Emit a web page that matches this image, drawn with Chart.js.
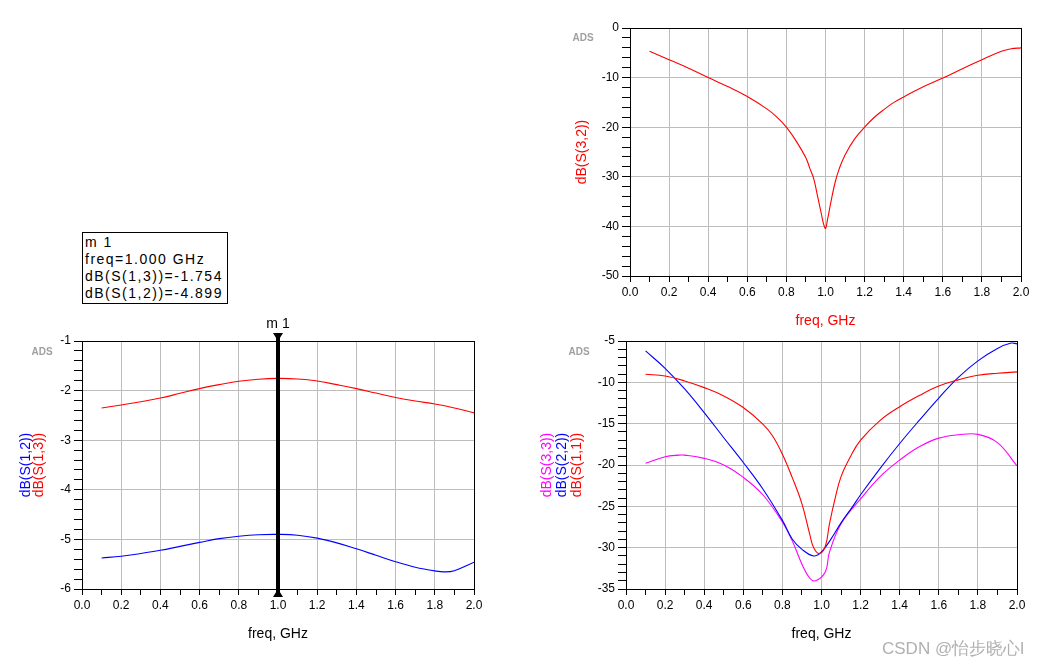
<!DOCTYPE html>
<html>
<head>
<meta charset="utf-8">
<script src="https://cdn.jsdelivr.net/npm/chart.js@4.4.1/dist/chart.umd.min.js"></script>
<style>
  html, body { margin:0; padding:0; background:#fff; }
  body { width:1048px; height:666px; position:relative; overflow:hidden; font-family: Arial, "Liberation Sans", sans-serif; }
  canvas { position:absolute; }
  #markerBox { position:absolute; left:82px; top:232px; width:146px; height:72px; border:1px solid #000;
    font-size:14px; line-height:17px; letter-spacing:1.5px; color:#000; padding:1px 0 0 2px; box-sizing:border-box; white-space:nowrap; }
  #wm { position:absolute; left:882px; top:637px; font-size:17px; color:#b0b0b0; white-space:nowrap; }
</style>
</head>
<body>
<canvas id="cTop" width="528" height="330" style="left:520px;top:0px;width:528px;height:330px"></canvas>
<canvas id="cBL" width="520" height="356" style="left:0px;top:310px;width:520px;height:356px"></canvas>
<canvas id="cBR" width="528" height="336" style="left:520px;top:330px;width:528px;height:336px"></canvas>
<div id="markerBox"></div>
<div id="wm">CSDN @怡步晓心l</div>
<script>
// ---------------- DATA ----------------
const xMajorTicks = [0.0,0.2,0.4,0.6,0.8,1.0,1.2,1.4,1.6,1.8,2.0];
const xTickLabels = ['0.0','0.2','0.4','0.6','0.8','1.0','1.2','1.4','1.6','1.8','2.0'];
const xMinorTicks = [0.1,0.3,0.5,0.7,0.9,1.1,1.3,1.5,1.7,1.9];

// top chart: dB(S(3,2))
const freqS32 = [0.1,0.2,0.3,0.4,0.5,0.6,0.7,0.75,0.8,0.85,0.9,0.92,0.94,0.96,0.98,0.99,1.0,1.01,1.03,1.05,1.07,1.1,1.15,1.2,1.25,1.3,1.35,1.4,1.5,1.6,1.7,1.8,1.9,1.95,2.0];
const s32     = [-4.7,-6.4,-8.1,-10.0,-11.8,-13.8,-16.3,-17.9,-20.0,-22.8,-26.2,-28.3,-30.4,-34.0,-37.7,-39.5,-40.4,-38.7,-34.6,-31.0,-28.4,-25.6,-22.3,-20.0,-18.0,-16.4,-15.0,-13.9,-11.85,-10.1,-8.2,-6.4,-4.7,-4.2,-4.0];
const yTicksTop = [0,-10,-20,-30,-40,-50];

// bottom-left chart: dB(S(1,3)) and dB(S(1,2))
const freqS13 = [0.1,0.2,0.3,0.4,0.5,0.6,0.7,0.8,0.9,1.0,1.1,1.2,1.3,1.4,1.5,1.6,1.7,1.8,1.9,2.0];
const s13     = [-2.35,-2.29,-2.225,-2.15,-2.055,-1.96,-1.88,-1.81,-1.77,-1.754,-1.765,-1.805,-1.88,-1.96,-2.05,-2.14,-2.21,-2.27,-2.35,-2.45];
const freqS12 = [0.1,0.2,0.3,0.4,0.5,0.6,0.7,0.8,0.9,1.0,1.1,1.2,1.3,1.4,1.5,1.6,1.7,1.8,1.85,1.9,2.0];
const s12     = [-5.375,-5.34,-5.285,-5.22,-5.14,-5.06,-4.985,-4.935,-4.905,-4.899,-4.915,-4.975,-5.07,-5.19,-5.32,-5.45,-5.56,-5.635,-5.655,-5.63,-5.46];
const yTicksBL = [-1,-2,-3,-4,-5,-6];

// bottom-right chart: dB(S(1,1)), dB(S(2,2)), dB(S(3,3))
const freqS11 = [0.1,0.2,0.3,0.4,0.5,0.6,0.7,0.75,0.8,0.85,0.9,0.94,0.96,0.99,1.02,1.04,1.07,1.1,1.15,1.2,1.3,1.4,1.5,1.6,1.7,1.8,1.9,2.0];
const s11     = [-9.03,-9.23,-9.83,-10.64,-11.64,-13.05,-15.06,-16.5,-18.7,-21.5,-24.7,-28.4,-30.0,-30.7,-29.8,-27.2,-24.0,-21.4,-18.9,-17.0,-14.6,-12.95,-11.6,-10.45,-9.7,-9.15,-8.9,-8.74];
const freqS22 = [0.1,0.2,0.3,0.4,0.5,0.6,0.7,0.8,0.85,0.9,0.96,1.0,1.05,1.1,1.16,1.2,1.3,1.4,1.5,1.6,1.7,1.8,1.9,1.97,2.0];
const s22     = [-6.2,-8.3,-10.8,-13.66,-16.7,-19.7,-22.9,-26.7,-28.95,-30.2,-31.0,-30.5,-28.9,-27.0,-25.0,-23.6,-20.4,-17.4,-14.6,-11.9,-9.4,-7.4,-5.9,-5.25,-5.35];
const freqS33 = [0.1,0.2,0.27,0.3,0.4,0.5,0.6,0.7,0.8,0.85,0.9,0.94,0.97,1.02,1.04,1.1,1.2,1.3,1.4,1.5,1.6,1.7,1.8,1.9,2.0];
const s33     = [-19.8,-19.0,-18.8,-18.8,-19.2,-20.0,-21.5,-23.6,-26.9,-29.15,-32.0,-33.7,-34.0,-32.9,-30.6,-27.1,-24.1,-21.4,-19.4,-17.8,-16.75,-16.35,-16.3,-17.3,-20.1];
const yTicksBR = [-5,-10,-15,-20,-25,-30,-35];

const markerFreq = 1.000;
const markerLines = ['m 1','freq=1.000 GHz','dB(S(1,3))=-1.754','dB(S(1,2))=-4.899'];

// ---------------- HELPERS ----------------
const FONT = 'Arial, "Liberation Sans", sans-serif';
function pts(xs, ys) { return xs.map((x, i) => ({x: x, y: ys[i]})); }
function isIn(v, arr) { return arr.some(a => Math.abs(a - v) < 1e-9); }
function ds(label, xs, ys, color) {
  return { label, data: pts(xs, ys), borderColor: color, borderWidth: 1.1, pointRadius: 0,
           fill: false, tension: 0.4 };
}
function xScale() {
  return {
    type: 'linear', min: 0, max: 2,
    afterBuildTicks: s => { s.ticks = xMajorTicks.concat(xMinorTicks).sort((a,b)=>a-b).map(v => ({value: v})); },
    afterFit: s => { s.height = 40; },
    ticks: { autoSkip: false, maxRotation: 0, minRotation: 0, padding: 3, color: '#000',
      font: { family: FONT, size: 12 },
      callback: v => { const i = xMajorTicks.findIndex(a => Math.abs(a - v) < 1e-9); return i >= 0 ? xTickLabels[i] : ''; } },
    grid: { color: c => (c.tick && isIn(c.tick.value, xMajorTicks)) ? '#bdbdbd' : 'rgba(0,0,0,0)',
      tickColor: '#000', tickLength: 6, lineWidth: 1 },
    border: { display: true, color: '#000', width: 1 }
  };
}
function yScale(major, minorStep) {
  const mn = Math.min(...major), mx = Math.max(...major);
  return {
    type: 'linear', min: mn, max: mx,
    afterBuildTicks: s => {
      const t = []; const n = Math.round((mx - mn) / minorStep);
      for (let i = 0; i <= n; i++) t.push({value: +(mn + i * minorStep).toFixed(6)});
      s.ticks = t;
    },
    afterFit: s => { s.width = 50; },
    ticks: { autoSkip: false, padding: 3, color: '#000', font: { family: FONT, size: 12 },
      callback: v => isIn(v, major) ? String(major.find(a => Math.abs(a - v) < 1e-9)) : '' },
    grid: { color: c => (c.tick && isIn(c.tick.value, major)) ? '#bdbdbd' : 'rgba(0,0,0,0)',
      tickColor: '#000', tickLength: 8, lineWidth: 1 },
    border: { display: true, color: '#000', width: 1 }
  };
}
// decoration plugin: frame, axis titles, ADS label, marker
const deco = {
  id: 'deco',
  afterDraw(chart, args, o) {
    const ctx = chart.ctx, a = chart.chartArea;
    ctx.save();
    ctx.strokeStyle = '#000'; ctx.lineWidth = 1;
    ctx.strokeRect(Math.round(a.left) + 0.5, Math.round(a.top) + 0.5, Math.round(a.right - a.left), Math.round(a.bottom - a.top));
    ctx.fillStyle = '#a0a0a0'; ctx.font = 'bold 10px ' + FONT; ctx.textAlign = 'center'; ctx.textBaseline = 'middle';
    ctx.fillText('ADS', a.left - o.adsDx, a.top + o.adsDy);
    ctx.fillStyle = o.xTitleColor; ctx.font = '14px ' + FONT;
    ctx.fillText('freq, GHz', (a.left + a.right) / 2, a.bottom + 45);
    const cy = (a.top + a.bottom) / 2;
    o.yTitles.forEach(t => {
      ctx.save();
      ctx.translate(a.left - t.dx, cy);
      ctx.rotate(-Math.PI / 2);
      ctx.fillStyle = t.color; ctx.font = '14px ' + FONT;
      ctx.textAlign = 'center'; ctx.textBaseline = 'middle';
      ctx.fillText(t.text, 0, 0);
      ctx.restore();
    });
    if (o.marker != null) {
      const x = chart.scales.x.getPixelForValue(o.marker);
      ctx.fillStyle = '#000'; ctx.strokeStyle = '#000';
      ctx.lineWidth = 4;
      ctx.beginPath(); ctx.moveTo(x, a.top - 6); ctx.lineTo(x, a.bottom + 6); ctx.stroke();
      ctx.beginPath(); ctx.moveTo(x - 5, a.top - 8); ctx.lineTo(x + 5, a.top - 8); ctx.lineTo(x, a.top); ctx.closePath(); ctx.fill();
      ctx.beginPath(); ctx.moveTo(x - 5, a.bottom + 8); ctx.lineTo(x + 5, a.bottom + 8); ctx.lineTo(x, a.bottom); ctx.closePath(); ctx.fill();
      ctx.font = '14px ' + FONT; ctx.textAlign = 'center'; ctx.textBaseline = 'middle';
      ctx.fillText(markerLines[0], x, a.top - 17);
    }
    ctx.restore();
  }
};
function makeChart(id, datasets, yMajor, yMinor, pad, decoOpts) {
  return new Chart(document.getElementById(id), {
    type: 'line',
    data: { datasets },
    options: {
      responsive: false, animation: false, devicePixelRatio: 1,
      layout: { padding: pad },
      plugins: { legend: { display: false }, tooltip: { enabled: false }, deco: decoOpts },
      scales: { x: xScale(), y: yScale(yMajor, yMinor) }
    },
    plugins: [deco]
  });
}

makeChart('cTop', [ds('dB(S(3,2))', freqS32, s32, '#ff0000')], yTicksTop, 2,
  {left: 60, right: 27, top: 28, bottom: 14},
  { adsDx: 47, adsDy: 10, xTitleColor: '#ff0000', yTitles: [{text: 'dB(S(3,2))', color: '#ff0000', dx: 48}], marker: null });

makeChart('cBL', [ds('dB(S(1,3))', freqS13, s13, '#ff0000'), ds('dB(S(1,2))', freqS12, s12, '#0000ff')], yTicksBL, 0.2,
  {left: 32, right: 46, top: 31, bottom: 37},
  { adsDx: 40, adsDy: 11, xTitleColor: '#000', yTitles: [{text: 'dB(S(1,2))', color: '#0000ff', dx: 56}, {text: 'dB(S(1,3))', color: '#ff0000', dx: 43}], marker: markerFreq });

makeChart('cBR', [ds('dB(S(1,1))', freqS11, s11, '#ff0000'), ds('dB(S(2,2))', freqS22, s22, '#0000ff'), ds('dB(S(3,3))', freqS33, s33, '#ff00ff')], yTicksBR, 1,
  {left: 56, right: 31, top: 11, bottom: 37},
  { adsDx: 47, adsDy: 11, xTitleColor: '#000', yTitles: [{text: 'dB(S(3,3))', color: '#ff00ff', dx: 79}, {text: 'dB(S(2,2))', color: '#0000ff', dx: 64}, {text: 'dB(S(1,1))', color: '#ff0000', dx: 49}], marker: null });

document.getElementById('markerBox').innerHTML = markerLines.map(l => '<div>' + l + '</div>').join('');
</script>
</body>
</html>
